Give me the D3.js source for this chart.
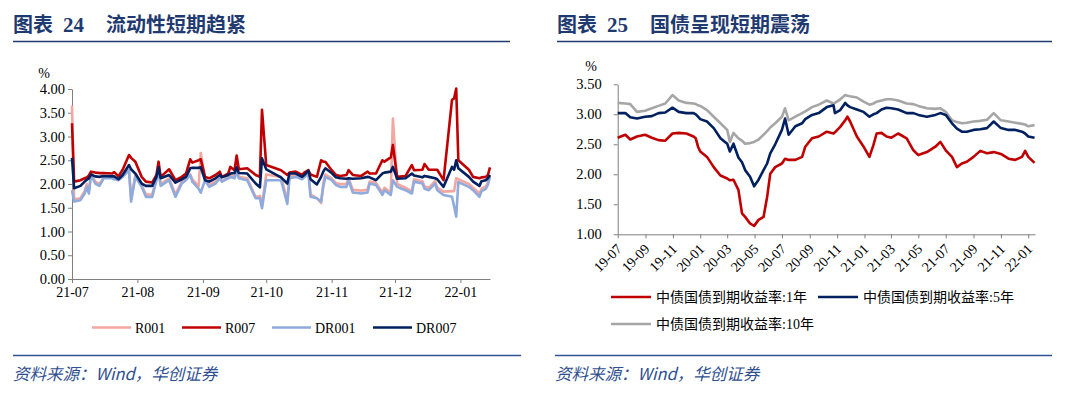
<!DOCTYPE html>
<html><head><meta charset="utf-8">
<script src="https://cdn.jsdelivr.net/npm/d3@7/dist/d3.min.js"></script>
<style>
html,body{margin:0;padding:0;background:#fff;}
svg{display:block;}
</style></head>
<body>
<svg id="c" width="1080" height="394"></svg>
<script>
// ---------------- Left chart data (liquidity) ----------------
const liqDates = ["2021-07-01","2021-07-02","2021-07-05","2021-07-07","2021-07-08","2021-07-09","2021-07-10","2021-07-12","2021-07-14","2021-07-16","2021-07-20","2021-07-21","2021-07-23","2021-07-25","2021-07-28","2021-07-29","2021-07-31","2021-08-03","2021-08-05","2021-08-08","2021-08-10","2021-08-11","2021-08-12","2021-08-16","2021-08-19","2021-08-22","2021-08-24","2021-08-26","2021-08-27","2021-08-30","2021-08-31","2021-09-02","2021-09-04","2021-09-07","2021-09-09","2021-09-10","2021-09-13","2021-09-14","2021-09-16","2021-09-17","2021-09-18","2021-09-22","2021-09-26","2021-09-28","2021-09-29","2021-10-01","2021-10-08","2021-10-11","2021-10-12","2021-10-15","2021-10-18","2021-10-19","2021-10-21","2021-10-22","2021-10-25","2021-10-27","2021-10-28","2021-10-29","2021-11-01","2021-11-03","2021-11-05","2021-11-08","2021-11-09","2021-11-11","2021-11-15","2021-11-18","2021-11-19","2021-11-22","2021-11-25","2021-11-26","2021-11-29","2021-11-30","2021-12-02","2021-12-06","2021-12-09","2021-12-10","2021-12-14","2021-12-15","2021-12-17","2021-12-20","2021-12-21","2021-12-24","2021-12-28","2021-12-29","2021-12-30","2021-12-31","2022-01-05","2022-01-07","2022-01-10","2022-01-11","2022-01-13","2022-01-14","2022-01-15"];
const R001  = [3.65,1.68,1.70,1.85,2.00,1.85,2.22,2.05,2.00,2.14,2.14,2.12,2.10,2.17,2.30,1.70,2.18,1.98,1.78,1.78,2.10,2.30,2.00,2.12,1.78,2.05,2.12,2.20,2.10,1.95,2.65,2.12,1.98,2.05,2.12,2.05,2.15,2.20,2.15,2.30,2.15,2.12,1.72,1.75,1.55,2.20,2.15,1.65,2.17,2.18,2.12,2.16,2.25,1.78,1.70,1.60,2.00,2.20,2.12,2.02,2.00,2.00,2.12,1.88,1.86,1.88,2.05,2.02,1.82,1.92,1.82,3.38,2.00,1.92,1.85,2.10,2.06,1.95,1.92,2.06,1.92,1.84,1.85,1.85,2.12,2.10,2.00,1.92,1.80,1.90,1.95,2.03,2.18];
const R007  = [3.28,2.05,2.08,2.12,2.14,2.18,2.26,2.24,2.23,2.23,2.22,2.25,2.16,2.30,2.61,2.55,2.47,2.15,2.05,2.03,2.19,2.47,2.15,2.31,2.08,2.15,2.22,2.52,2.45,2.50,2.52,2.15,2.12,2.19,2.26,2.15,2.22,2.36,2.29,2.60,2.31,2.33,2.19,2.15,3.56,2.40,2.29,2.19,2.24,2.26,2.19,2.24,2.29,2.20,2.15,2.50,2.47,2.47,2.29,2.19,2.17,2.19,2.29,2.19,2.17,2.26,2.22,2.22,2.50,2.47,2.56,2.82,2.15,2.17,2.40,2.29,2.30,2.42,2.30,2.30,2.30,2.08,3.77,3.80,4.01,2.50,2.30,2.15,2.12,2.14,2.15,2.19,2.35];
const DR001 = [1.87,1.63,1.66,1.80,1.94,1.80,2.19,2.01,1.96,2.12,2.12,2.10,2.08,2.15,2.29,1.63,2.15,1.94,1.73,1.73,2.08,2.29,1.96,2.08,1.73,2.01,2.08,2.19,2.05,1.90,1.82,2.08,1.94,2.01,2.12,2.05,2.12,2.15,2.12,2.26,2.12,2.08,1.70,1.70,1.49,2.08,2.08,1.58,2.12,2.15,2.10,2.14,2.22,1.73,1.70,1.63,1.94,2.15,2.08,1.98,1.94,1.94,2.08,1.82,1.80,1.82,2.01,1.98,1.77,1.87,1.77,2.08,1.94,1.87,1.80,2.05,2.01,1.90,1.87,2.01,1.87,1.77,1.73,1.53,1.31,2.04,1.94,1.87,1.73,1.85,1.90,1.98,2.15];
const DR007 = [2.55,1.91,1.96,2.05,2.09,2.12,2.20,2.16,2.15,2.17,2.16,2.16,2.10,2.19,2.40,2.31,2.22,2.01,1.96,1.96,2.15,2.35,2.12,2.19,2.03,2.10,2.15,2.33,2.34,2.34,2.35,2.08,2.05,2.12,2.19,2.14,2.19,2.22,2.23,2.35,2.23,2.22,2.01,1.93,2.54,2.31,2.14,2.01,2.22,2.22,2.15,2.19,2.28,2.10,1.99,2.15,2.26,2.33,2.23,2.14,2.12,2.11,2.12,2.11,2.12,2.15,2.14,2.08,2.22,2.24,2.26,2.36,2.11,2.12,2.22,2.18,2.14,2.17,2.15,2.12,2.10,1.94,2.36,2.30,2.50,2.33,2.15,2.05,1.96,2.06,2.08,2.12,2.19];
const liqYTicks = [0,0.5,1,1.5,2,2.5,3,3.5,4];
const liqNames = ["R001","R007","DR001","DR007"];

// ---------------- Right chart data (treasury yields) ----------------
const bondDates = ["2019-07-01","2019-07-18","2019-07-29","2019-08-13","2019-08-31","2019-09-15","2019-09-30","2019-10-15","2019-10-31","2019-11-14","2019-12-01","2019-12-17","2019-12-22","2019-12-27","2020-01-01","2020-01-16","2020-01-31","2020-02-15","2020-03-01","2020-03-07","2020-03-15","2020-03-26","2020-04-03","2020-04-10","2020-04-21","2020-04-30","2020-05-10","2020-05-21","2020-05-29","2020-06-05","2020-06-16","2020-07-01","2020-07-08","2020-07-16","2020-07-31","2020-08-15","2020-08-22","2020-09-06","2020-09-21","2020-10-09","2020-10-24","2020-10-27","2020-11-08","2020-11-19","2020-11-24","2020-11-30","2020-12-15","2020-12-30","2021-01-12","2021-01-21","2021-01-28","2021-02-08","2021-02-19","2021-03-02","2021-03-17","2021-04-05","2021-04-20","2021-05-01","2021-05-20","2021-06-08","2021-06-19","2021-07-01","2021-07-15","2021-07-26","2021-08-06","2021-08-17","2021-09-01","2021-09-16","2021-10-01","2021-10-16","2021-11-01","2021-11-18","2021-12-03","2021-12-18","2021-12-25","2022-01-01","2022-01-15"];
const Y1  = [2.61,2.66,2.58,2.63,2.66,2.61,2.57,2.56,2.68,2.69,2.68,2.63,2.60,2.46,2.38,2.29,2.12,1.98,1.93,1.90,1.91,1.74,1.35,1.29,1.18,1.14,1.24,1.29,1.62,2.01,2.12,2.18,2.26,2.24,2.24,2.29,2.46,2.60,2.63,2.71,2.68,2.70,2.79,2.90,2.96,2.88,2.63,2.46,2.29,2.49,2.68,2.69,2.63,2.61,2.68,2.60,2.40,2.32,2.37,2.46,2.54,2.40,2.29,2.12,2.18,2.21,2.29,2.39,2.35,2.37,2.34,2.26,2.24,2.29,2.39,2.29,2.19];
const Y5  = [3.02,3.02,2.95,2.93,2.96,2.97,3.02,3.03,3.11,3.04,3.02,3.02,3.00,2.96,2.92,2.88,2.77,2.60,2.51,2.38,2.51,2.28,2.20,2.07,1.96,1.80,1.91,2.07,2.18,2.35,2.50,2.74,2.93,2.66,2.80,2.85,2.92,2.99,3.02,3.12,3.15,3.02,3.07,3.19,3.15,3.12,3.08,3.04,2.96,3.00,3.02,3.08,3.11,3.10,3.08,3.02,3.02,2.99,2.96,2.99,3.02,2.99,2.85,2.76,2.71,2.71,2.74,2.75,2.77,2.88,2.77,2.74,2.74,2.71,2.68,2.63,2.61];
const Y10 = [3.19,3.18,3.17,3.04,3.06,3.10,3.14,3.18,3.32,3.23,3.19,3.18,3.17,3.15,3.14,3.07,2.96,2.85,2.74,2.54,2.69,2.60,2.56,2.51,2.52,2.54,2.58,2.66,2.72,2.78,2.85,2.96,3.10,2.90,2.96,3.02,3.05,3.12,3.16,3.23,3.18,3.19,3.25,3.32,3.31,3.30,3.28,3.21,3.16,3.18,3.21,3.23,3.25,3.25,3.23,3.18,3.17,3.14,3.10,3.09,3.10,3.04,2.90,2.87,2.85,2.86,2.88,2.89,2.91,3.02,2.90,2.88,2.86,2.84,2.83,2.80,2.82];
const bondYTicks = [1,1.5,2,2.5,3,3.5];
const bondNames = ["中债国债到期收益率:1年","中债国债到期收益率:5年","中债国债到期收益率:10年"];

// ---------------- Drawing ----------------
const parse = d3.timeParse("%Y-%m-%d");
const svg = d3.select("#c");
svg.append("rect").attr("width",1080).attr("height",394).attr("fill","#fff");

const titleColor = "#1F3A70";
const ruleColor = "#2F5496";
const axisColor = "#7F7F7F";
const serif = '"Liberation Serif","Times New Roman","Noto Sans CJK SC",serif';
const cjk = '"Noto Sans CJK SC","Liberation Serif",sans-serif';

function header(x0, x1, num, title){
  const g = svg.append("g");
  g.append("text").attr("x",x0).attr("y",32).attr("font-family",cjk).attr("font-weight","bold")
    .attr("font-size",20).attr("fill",titleColor).text("图表");
  g.append("text").attr("x",x0+50).attr("y",32).attr("font-family",serif).attr("font-weight","bold")
    .attr("font-size",21).attr("fill",titleColor).text(num);
  g.append("text").attr("x",x0+93).attr("y",32).attr("font-family",cjk).attr("font-weight","bold")
    .attr("font-size",20).attr("fill",titleColor).text(title);
  g.append("line").attr("x1",x0).attr("x2",x1).attr("y1",41.5).attr("y2",41.5)
    .attr("stroke","#1F3A70").attr("stroke-width",1.6);
}
function footer(x0, x1){
  svg.append("line").attr("x1",x0).attr("x2",x1).attr("y1",355.5).attr("y2",355.5)
    .attr("stroke",ruleColor).attr("stroke-width",1.4);
  svg.append("text").attr("x",x0).attr("y",380).attr("font-family",cjk).attr("font-style","italic")
    .attr("font-size",16.5).attr("fill","#2F4F8F").text("资料来源：Wind，华创证券");
}
header(13, 510, "24", "流动性短期趋紧");
header(557, 1052, "25", "国债呈现短期震荡");
footer(13, 521);
footer(555, 1052);

// ---- Left chart ----
{
  const x = d3.scaleTime().domain([parse("2021-07-01"), parse("2022-01-15")]).range([72, 490]);
  const y = d3.scaleLinear().domain([0,4]).range([279, 89]);
  const gY = svg.append("g").attr("transform","translate(72,0)")
    .call(d3.axisLeft(y).tickValues(liqYTicks).tickFormat(d3.format(".2f")).tickSize(4).tickSizeOuter(0).tickPadding(3));
  const gX = svg.append("g").attr("transform","translate(0,279)")
    .call(d3.axisBottom(x).ticks(d3.timeMonth.every(1)).tickFormat(d3.timeFormat("%y-%m")).tickSize(4).tickSizeOuter(0).tickPadding(4));
  [gX,gY].forEach(g=>{
    g.selectAll("path,line").attr("stroke",axisColor).attr("stroke-width",1);
    g.selectAll("text").attr("font-family",serif).attr("fill","#000");
  });
  gY.selectAll("text").attr("font-size",14.5);
  gX.selectAll("text").attr("font-size",14);
  svg.append("text").attr("x",44).attr("y",78).attr("font-family",serif).attr("font-size",14)
    .attr("text-anchor","middle").text("%");

  const series = [R001,R007,DR001,DR007];
  const colors = ["#F4A6A0","#C00000","#8FAADC","#002060"];
  const line = d3.line().x((d,i)=>x(parse(liqDates[i]))).y(d=>y(d));
  series.forEach((s,k)=>{
    svg.append("path").datum(s).attr("d",line).attr("fill","none")
      .attr("stroke",colors[k]).attr("stroke-width",2.6).attr("stroke-linejoin","round");
  });
  // legend
  const lx = [92,182,272,373];
  liqNames.forEach((n,k)=>{
    svg.append("line").attr("x1",lx[k]).attr("x2",lx[k]+39).attr("y1",327.5).attr("y2",327.5)
      .attr("stroke",colors[k]).attr("stroke-width",2.6);
    svg.append("text").attr("x",lx[k]+43).attr("y",332.5).attr("font-family",serif).attr("font-size",14).text(n);
  });
}

// ---- Right chart ----
{
  const x = d3.scaleTime().domain([parse("2019-07-01"), parse("2022-01-16")]).range([617.7, 1035]);
  const y = d3.scaleLinear().domain([1,3.5]).range([234.3, 84.3]);
  const gY = svg.append("g").attr("transform","translate(617.7,0)")
    .call(d3.axisLeft(y).tickValues(bondYTicks).tickFormat(d3.format(".2f")).tickSize(4).tickSizeOuter(0).tickPadding(12));
  const gX = svg.append("g").attr("transform","translate(0,234.3)")
    .call(d3.axisBottom(x).ticks(d3.timeMonth.every(2)).tickFormat(d3.timeFormat("%y-%m")).tickSize(4).tickSizeOuter(0));
  [gX,gY].forEach(g=>{
    g.selectAll("path,line").attr("stroke",axisColor).attr("stroke-width",1);
    g.selectAll("text").attr("font-family",serif).attr("fill","#000");
  });
  gY.selectAll("text").attr("font-size",14.5);
  gX.selectAll("text").attr("font-size",14).attr("text-anchor","end")
    .attr("transform","translate(1,12) rotate(-45)").attr("dy","0.35em").attr("y",0).attr("x",0);
  svg.append("text").attr("x",591).attr("y",71).attr("font-family",serif).attr("font-size",14)
    .attr("text-anchor","middle").text("%");

  const series = [Y1,Y5,Y10];
  const colors = ["#C00000","#002060","#A6A6A6"];
  const line = d3.line().x((d,i)=>x(parse(bondDates[i]))).y(d=>y(d));
  [2,1,0].forEach(k=>{
    svg.append("path").datum(series[k]).attr("d",line).attr("fill","none")
      .attr("stroke",colors[k]).attr("stroke-width",2.6).attr("stroke-linejoin","round");
  });
  const lpos = [[611,297],[818,297],[611,324]];
  bondNames.forEach((n,k)=>{
    const [px,py] = lpos[k];
    svg.append("line").attr("x1",px).attr("x2",px+40).attr("y1",py).attr("y2",py)
      .attr("stroke",colors[k]).attr("stroke-width",2.6);
    svg.append("text").attr("x",px+45).attr("y",py+5).attr("font-family",serif).attr("font-size",14).text(n);
  });
}
</script>
</body></html>
